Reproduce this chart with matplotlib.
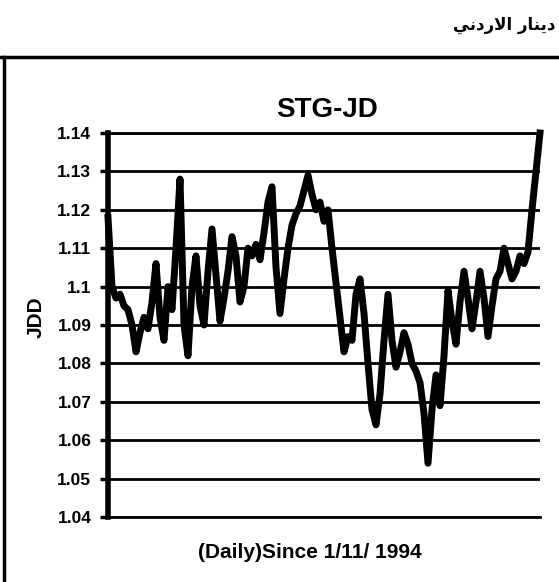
import numpy as np
import matplotlib
matplotlib.use('Agg')
import matplotlib.pyplot as plt
from matplotlib.lines import Line2D

# Datos (tipo de cambio diario STG-JD)
rate = [1.118, 1.100, 1.097, 1.098, 1.095, 1.094, 1.090, 1.083, 1.088, 1.092,
        1.089, 1.096, 1.106, 1.092, 1.086, 1.100, 1.094, 1.110, 1.128, 1.090,
        1.082, 1.100, 1.108, 1.095, 1.090, 1.104, 1.115, 1.103, 1.091, 1.097,
        1.104, 1.113, 1.108, 1.096, 1.100, 1.110, 1.108, 1.111, 1.107, 1.114,
        1.122, 1.126, 1.105, 1.093, 1.102, 1.110, 1.116, 1.119, 1.121, 1.125,
        1.129, 1.124, 1.120, 1.122, 1.117, 1.120, 1.110, 1.101, 1.092, 1.083,
        1.087, 1.086, 1.098, 1.102, 1.093, 1.080, 1.068, 1.064, 1.072, 1.086,
        1.098, 1.086, 1.079, 1.083, 1.088, 1.085, 1.080, 1.078, 1.075, 1.067,
        1.054, 1.068, 1.077, 1.069, 1.082, 1.099, 1.091, 1.085, 1.096, 1.104,
        1.097, 1.089, 1.096, 1.104, 1.097, 1.087, 1.095, 1.102, 1.104, 1.110,
        1.106, 1.102, 1.104, 1.108, 1.106, 1.109, 1.120, 1.130, 1.140]
yticks = [1.04, 1.05, 1.06, 1.07, 1.08, 1.09, 1.10, 1.11, 1.12, 1.13, 1.14]
ylabels = ['1.04', '1.05', '1.06', '1.07', '1.08', '1.09', '1.1',
           '1.11', '1.12', '1.13', '1.14']

W, H = 559, 582
fig = plt.figure(figsize=(W / 100, H / 100), dpi=100)
ax = fig.add_axes([108 / W, 1 - 517 / H, 432 / W, 384 / H])

ax.plot(np.arange(len(rate)), rate, color='black', lw=5, clip_on=False,
        solid_joinstyle='round')
ax.set_xlim(0, len(rate) - 1)
ax.set_ylim(1.04, 1.14)
ax.set_xticks([])
ax.set_yticks(yticks)
ax.set_yticklabels(ylabels, fontsize=12.5, fontweight='bold', family='Liberation Sans')
ax.tick_params(axis='y', length=6, width=2.5, pad=6)
ax.grid(axis='y', color='black', lw=2)
ax.spines['right'].set_visible(False)
ax.spines['left'].set_linewidth(4)
ax.spines['top'].set_linewidth(2)
ax.spines['bottom'].set_linewidth(2)

fig.text(327 / W, 1 - 110 / H, 'STG-JD', ha='center', va='center',
         fontsize=20, fontweight='bold', family='Liberation Sans')
fig.text(310 / W, 1 - 553 / H, '(Daily)Since 1/11/ 1994', ha='center', va='center',
         fontsize=15, fontweight='bold', family='Liberation Sans')
fig.text(36 / W, 1 - 317 / H, 'JDD', ha='center', va='center', rotation=90,
         fontsize=15, fontweight='bold', family='Liberation Sans')

# texto arabe (dinar jordano), en formas de presentacion ya en orden visual
fig.text(555 / W, 1 - 25 / H, '\ufef2\ufee7\ufea9\ufead\ufefb\ufe8d \ufead\ufe8e\ufee8\ufef3\ufea9',
         ha='right', va='center', fontsize=12, fontweight='bold', family='DejaVu Sans')

# marco exterior
fig.add_artist(Line2D([0, 1], [1 - 57 / H, 1 - 57 / H], color='black', lw=2.5))
fig.add_artist(Line2D([4 / W, 4 / W], [0, 1 - 57 / H], color='black', lw=2.5))

fig.savefig('out.png', dpi=100)
